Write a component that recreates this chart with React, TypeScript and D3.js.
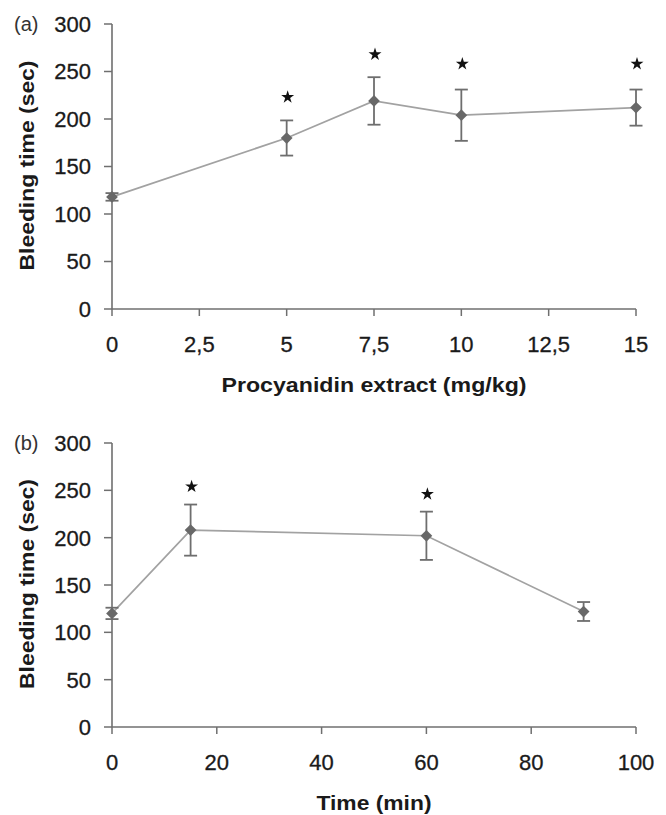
import React from 'react';
import * as d3 from 'd3';

// panel (a): dose response
const doses = [0, 5, 7.5, 10, 15];
const doseMeans = [118, 180, 219, 204, 212];
const doseErrors = [4, 18.5, 25, 27, 19];
const doseStars = [null, 223, 268, 258, 258];
const doseTicks = [0, 2.5, 5, 7.5, 10, 12.5, 15];

// panel (b): time course
const times = [0, 15, 60, 90];
const timeMeans = [120, 208, 202, 122];
const timeErrors = [6, 27, 25.5, 10];
const timeStars = [null, 254, 246, null];
const timeTicks = [0, 20, 40, 60, 80, 100];

const yTicks = [0, 50, 100, 150, 200, 250, 300];

const W = 666;
const H = 815;
const FONT = '"Liberation Sans", Arial, Helvetica, sans-serif';

const AXIS = '#6f6f6f';
const TEXT = '#1a1a1a';
const MARK = '#686868';
const LINE = '#a2a2a2';
const ERR = '#6e6e6e';

interface PanelProps {
  tag: string;
  xs: number[];
  means: number[];
  errors: number[];
  stars: (number | null)[];
  xTicks: number[];
  xMax: number;
  xTitle: string;
  xTitleLen: number;
  top: number;
  bottom: number;
  fmt: (v: number) => string;
}

const Panel: React.FC<PanelProps> = ({
  tag, xs, means, errors, stars, xTicks, xMax, xTitle, xTitleLen, top, bottom, fmt,
}) => {
  const left = 112;
  const right = 636;
  const x = d3.scaleLinear().domain([0, xMax]).range([left, right]);
  const y = d3.scaleLinear().domain([0, 300]).range([bottom, top]);

  const pts = xs.map((v, i) => [x(v), y(means[i])] as [number, number]);
  const line = d3.line()(pts) ?? '';
  const diamond = d3.symbol().type(d3.symbolDiamond2).size(88)() ?? '';
  const star = d3.symbol().type(d3.symbolStar).size(52)() ?? '';
  const cap = 6.5;

  return (
    <g>
      {/* axes */}
      <line x1={left} x2={left} y1={top} y2={bottom} stroke={AXIS} strokeWidth={1.6} />
      <line x1={left} x2={right} y1={bottom} y2={bottom} stroke={AXIS} strokeWidth={1.6} />
      {yTicks.map(t => (
        <g key={`y${t}`}>
          <line x1={left - 8} x2={left} y1={y(t)} y2={y(t)} stroke={AXIS} strokeWidth={1.5} />
          <text x={91} y={y(t)} dy="0.36em" textAnchor="end" fontSize={22} fill={TEXT}
            stroke={TEXT} strokeWidth={0.3}>{t}</text>
        </g>
      ))}
      {xTicks.map(t => (
        <g key={`x${t}`}>
          <line x1={x(t)} x2={x(t)} y1={bottom} y2={bottom + 7} stroke={AXIS} strokeWidth={1.5} />
          <text x={x(t)} y={bottom + 43} textAnchor="middle" fontSize={22} fill={TEXT}
            stroke={TEXT} strokeWidth={0.3}>{fmt(t)}</text>
        </g>
      ))}
      <text x={14} y={top} dy="0.36em" fontSize={20} fill="#333">{tag}</text>
      <text
        transform={`translate(26,${(top + bottom) / 2 - 1}) rotate(-90)`}
        textAnchor="middle" dy="0.36em" fontSize={21} fontWeight="bold" fill={TEXT}
        textLength={210} lengthAdjust="spacingAndGlyphs"
      >Bleeding time (sec)</text>
      <text
        x={(left + right) / 2} y={bottom + 83} textAnchor="middle" fontSize={21} fontWeight="bold" fill={TEXT}
        textLength={xTitleLen} lengthAdjust="spacingAndGlyphs"
      >{xTitle}</text>

      {/* series */}
      <path d={line} fill="none" stroke={LINE} strokeWidth={1.7} />
      {xs.map((v, i) => (
        <g key={`e${i}`} stroke={ERR} strokeWidth={1.8}>
          <line x1={x(v)} x2={x(v)} y1={y(means[i] - errors[i])} y2={y(means[i] + errors[i])} />
          <line x1={x(v) - cap} x2={x(v) + cap} y1={y(means[i] + errors[i])} y2={y(means[i] + errors[i])} />
          <line x1={x(v) - cap} x2={x(v) + cap} y1={y(means[i] - errors[i])} y2={y(means[i] - errors[i])} />
        </g>
      ))}
      {xs.map((v, i) => (
        <path key={`m${i}`} d={diamond} transform={`translate(${x(v)},${y(means[i])})`} fill={MARK} />
      ))}
      {xs.map((v, i) => stars[i] == null ? null : (
        <path key={`s${i}`} d={star} transform={`translate(${x(v) + 1},${y(stars[i] as number)})`} fill="#111" />
      ))}
    </g>
  );
};

export default function App() {
  const comma = (v: number) => String(v).replace('.', ',');
  return (
    <svg
      width={W} height={H} viewBox={`0 0 ${W} ${H}`}
      style={{ position: 'absolute', left: 0, top: 0, background: '#fff', fontFamily: FONT }}
    >
      <rect width={W} height={H} fill="#fff" />
      <Panel
        tag="(a)" xs={doses} means={doseMeans} errors={doseErrors} stars={doseStars}
        xTicks={doseTicks} xMax={15} xTitle="Procyanidin extract (mg/kg)" xTitleLen={305}
        top={24} bottom={309} fmt={comma}
      />
      <Panel
        tag="(b)" xs={times} means={timeMeans} errors={timeErrors} stars={timeStars}
        xTicks={timeTicks} xMax={100} xTitle="Time (min)" xTitleLen={115}
        top={443} bottom={727} fmt={v => String(v)}
      />
    </svg>
  );
}
